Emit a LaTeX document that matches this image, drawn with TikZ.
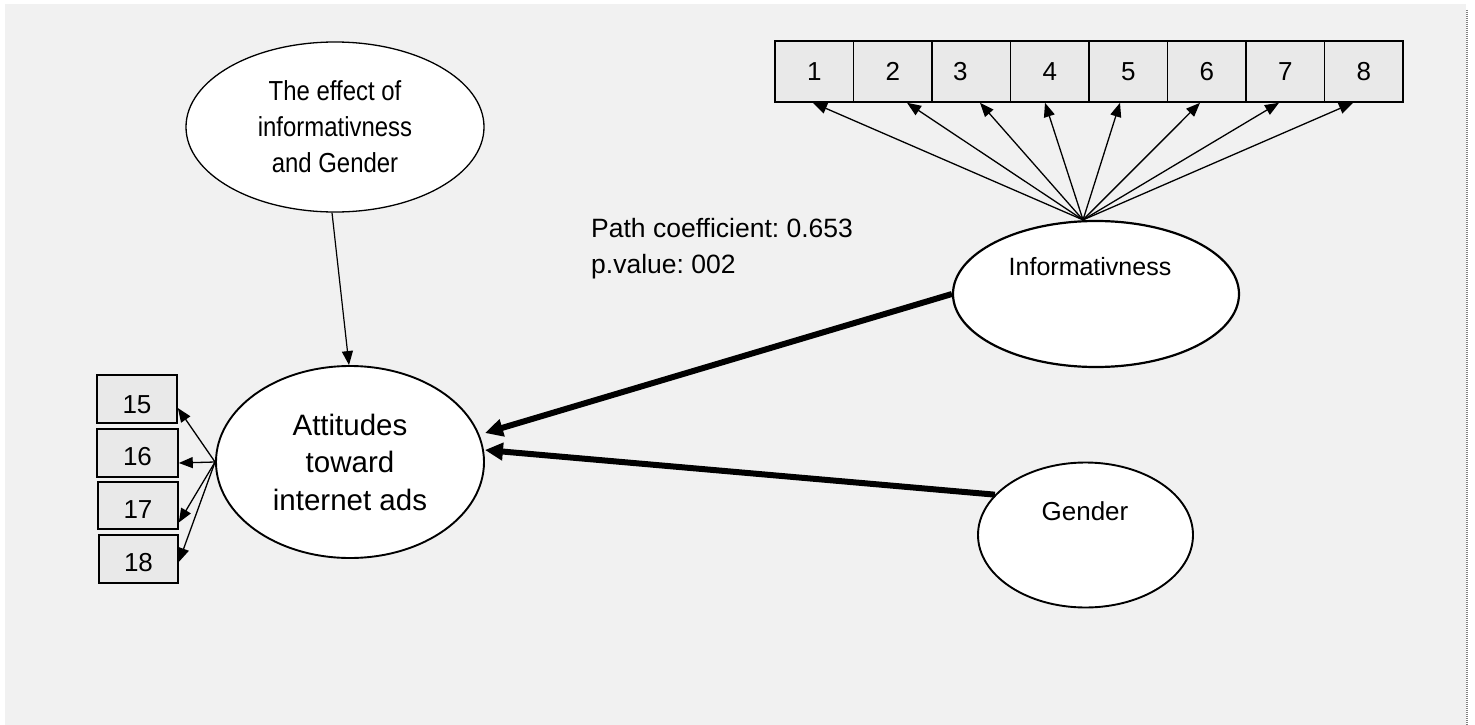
\documentclass[tikz,border=0pt]{standalone}
\usepackage{fontspec}
\setmainfont{Liberation Sans}
\newfontfamily\narrowsans[FakeStretch=0.87]{Liberation Sans}
\usetikzlibrary{shapes.geometric,arrows.meta}
\definecolor{bgfill}{RGB}{241,241,241}
\definecolor{cellfill}{RGB}{233,233,233}
\definecolor{edgegray}{RGB}{128,128,128}

\begin{document}
\frenchspacing
\begin{tikzpicture}[x=1pt,y=-1pt,
  every label/.append style={font=\fontsize{26}{30}\selectfont, inner sep=0pt},
  cell/.style={draw, line width=1.6pt, fill=cellfill, inner sep=0pt,
    minimum width=78.5pt, minimum height=61pt, font=\fontsize{26}{30}\selectfont},
  ind/.style={draw, line width=1.6pt, fill=cellfill, inner sep=0pt,
    minimum height=48pt},
  latent/.style={ellipse, draw, fill=white, inner sep=0pt, line width=1.9pt},
  thinarrow/.style={line width=1.3pt, -{Triangle[length=14pt,width=11pt]}},
  thickarrow/.style={line width=6pt, -{Triangle[length=18pt,width=17pt]}},
]
\useasboundingbox (0,0) rectangle (1475,725);

% page background and right margin rule
\fill[bgfill] (5,4) rectangle (1466,725);
\draw[edgegray, line width=2pt, dash pattern=on 1pt off 1pt] (1467,10) -- (1467,725);

% indicator row of Informativness
\node[cell] (b1) at (814.25,71.5) {1};
\node[cell] (b2) at (892.75,71.5) {2};
\node[cell, label={[xshift=-11pt]center:3}] (b3) at (971.25,71.5) {};
\node[cell] (b4) at (1049.75,71.5) {4};
\node[cell] (b5) at (1128.25,71.5) {5};
\node[cell] (b6) at (1206.75,71.5) {6};
\node[cell] (b7) at (1285.25,71.5) {7};
\node[cell] (b8) at (1363.75,71.5) {8};

% latent variables
\node[latent, line width=1.3pt, minimum width=298pt, minimum height=170pt,
  align=center, font=\narrowsans\fontsize{27.5}{36}\selectfont] (eff) at (335,127)
  {The effect of\\informativness\\and Gender};
\node[latent, minimum width=268pt, minimum height=192pt,
  align=center, font=\fontsize{29.5}{37.5}\selectfont] (att) at (350,462)
  {Attitudes\\toward\\internet ads};
\node[latent, line width=2.2pt, minimum width=286pt, minimum height=146pt] (inf) at (1096,294) {};
\node[font=\fontsize{25}{30}\selectfont, inner sep=0pt] (infT) at (1090,267) {Informativness};
\node[latent, minimum width=215pt, minimum height=145pt] (gen) at (1085.5,535) {};
\node[font=\fontsize{26}{30}\selectfont, inner sep=0pt] (genT) at (1085,511) {Gender};

% indicators of Attitudes
\node[ind, minimum width=80pt, label={[yshift=-5.5pt]center:15}] (b15) at (137,399) {};
\node[ind, minimum width=81pt, label={[yshift=-3.5pt]center:16}] (b16) at (137.5,453) {};
\node[ind, minimum width=80pt, minimum height=47pt, label={[yshift=-4pt]center:17}] (b17) at (138,505.5) {};
\node[ind, minimum width=79pt, label={[yshift=-4pt]center:18}] (b18) at (138.5,559) {};

% path annotation
\node[anchor=north west, inner sep=0pt, align=left,
  font=\fontsize{26.5}{36}\selectfont] (pc) at (591,218.5)
  {Path coefficient: 0.653\\p.value: 002};

% loadings of Informativness
\coordinate (apex) at ([xshift=-13pt]inf.north);
\draw[thinarrow] (apex) -- ([xshift=-1.25pt]b1.south);
\draw[thinarrow] (apex) -- ([xshift=14.25pt]b2.south);
\draw[thinarrow] (apex) -- ([xshift=8.75pt]b3.south);
\draw[thinarrow] (apex) -- ([xshift=-4.75pt]b4.south);
\draw[thinarrow] (apex) -- ([xshift=-8.25pt]b5.south);
\draw[thinarrow] (apex) -- ([xshift=-6.75pt]b6.south);
\draw[thinarrow] (apex) -- ([xshift=-6.25pt]b7.south);
\draw[thinarrow] (apex) -- ([xshift=-10.75pt]b8.south);

% loadings of Attitudes
\draw[thinarrow] (att.west) -- ([yshift=-9pt]b15.east);
\draw[thinarrow] (att.west) -- ([yshift=-10pt]b16.east);
\draw[thinarrow] (att.west) -- ([yshift=-17pt]b17.east);
\draw[thinarrow] (att.west) -- ([yshift=-3pt]b18.east);

% structural paths
\draw[thinarrow, line width=1.2pt] ([xshift=-3pt]eff.south) -- ([xshift=-1pt]att.north);
\draw[thickarrow] (inf.west) -- ([yshift=29pt]att.east);
\draw[thickarrow] (gen.156) -- ([yshift=12pt]att.east);
\end{tikzpicture}
\end{document}
